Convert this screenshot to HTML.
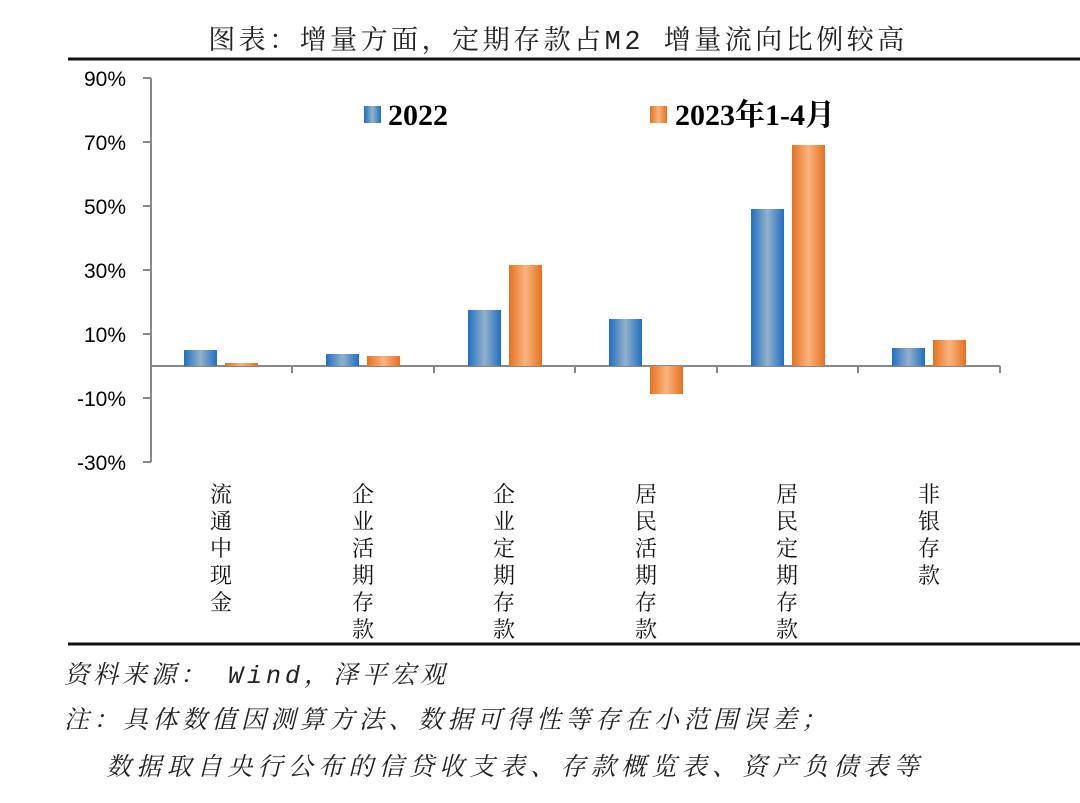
<!DOCTYPE html>
<html><head><meta charset="utf-8"><style>
body{margin:0;background:#fff;width:1080px;height:798px;overflow:hidden;font-family:"Liberation Serif","Noto Serif CJK SC",serif}
</style></head><body>
<svg width="1080" height="798" xmlns="http://www.w3.org/2000/svg">
<defs>
<linearGradient id="b" x1="0" x2="1"><stop offset="0" stop-color="#1f6fc4"/><stop offset="0.5" stop-color="#93b1c8"/><stop offset="1" stop-color="#1f6fc4"/></linearGradient>
<linearGradient id="o" x1="0" x2="1"><stop offset="0" stop-color="#e5711f"/><stop offset="0.5" stop-color="#f9b47e"/><stop offset="1" stop-color="#e5711f"/></linearGradient>
</defs>
<text x="558" y="49" text-anchor="middle" font-size="27" font-family="Liberation Mono,Noto Serif CJK SC,serif" fill="#222" letter-spacing="3.5">图表：增量方面，定期存款占M2 增量流向比例较高</text>
<line x1="68" y1="59" x2="1080" y2="59" stroke="#111" stroke-width="3"/>
<line x1="68" y1="644" x2="1080" y2="644" stroke="#111" stroke-width="3"/>
<g stroke="#888" stroke-width="2">
<line x1="151" y1="78" x2="151" y2="462"/>
<line x1="143" y1="78" x2="151" y2="78"/><line x1="143" y1="142" x2="151" y2="142"/><line x1="143" y1="206" x2="151" y2="206"/><line x1="143" y1="270" x2="151" y2="270"/><line x1="143" y1="334" x2="151" y2="334"/><line x1="143" y1="398" x2="151" y2="398"/><line x1="143" y1="462" x2="151" y2="462"/>
<line x1="151" y1="366" x2="1000" y2="366"/>
<line x1="292" y1="366" x2="292" y2="373"/><line x1="434" y1="366" x2="434" y2="373"/><line x1="575" y1="366" x2="575" y2="373"/><line x1="717" y1="366" x2="717" y2="373"/><line x1="858" y1="366" x2="858" y2="373"/><line x1="1000" y1="366" x2="1000" y2="373"/>
</g>
<g font-family="Liberation Sans,sans-serif" font-size="21" text-anchor="end" fill="#000">
<text x="126" y="86">90%</text><text x="126" y="150">70%</text><text x="126" y="214">50%</text><text x="126" y="278">30%</text><text x="126" y="342">10%</text><text x="126" y="406">-10%</text><text x="126" y="470">-30%</text>
</g>
<g>
<rect x="184" y="350" width="33" height="16" fill="url(#b)"/><rect x="225" y="363" width="33" height="3" fill="url(#o)"/>
<rect x="326" y="354" width="33" height="12" fill="url(#b)"/><rect x="367" y="356" width="33" height="10" fill="url(#o)"/>
<rect x="468" y="310" width="33" height="56" fill="url(#b)"/><rect x="509" y="265" width="33" height="101" fill="url(#o)"/>
<rect x="609" y="319" width="33" height="47" fill="url(#b)"/><rect x="650" y="366" width="33" height="28" fill="url(#o)"/>
<rect x="751" y="209" width="33" height="157" fill="url(#b)"/><rect x="792" y="145" width="33" height="221" fill="url(#o)"/>
<rect x="892" y="348" width="33" height="18" fill="url(#b)"/><rect x="933" y="340" width="33" height="26" fill="url(#o)"/>
</g>
<rect x="364" y="106" width="17" height="17" fill="url(#b)"/>
<text x="388" y="125" font-size="30" font-weight="bold">2022</text>
<rect x="650" y="106" width="17" height="17" fill="url(#o)"/>
<text x="675" y="125" font-size="30" font-weight="bold" font-family="Liberation Serif,Noto Serif CJK SC,serif">2023年1-4月</text>
<g font-size="22" text-anchor="middle" font-family="Noto Serif CJK SC,serif" fill="#111">
<text x="221" y="502">流</text><text x="221" y="529">通</text><text x="221" y="556">中</text><text x="221" y="583">现</text><text x="221" y="610">金</text>
<text x="363" y="502">企</text><text x="363" y="529">业</text><text x="363" y="556">活</text><text x="363" y="583">期</text><text x="363" y="610">存</text><text x="363" y="637">款</text>
<text x="504" y="502">企</text><text x="504" y="529">业</text><text x="504" y="556">定</text><text x="504" y="583">期</text><text x="504" y="610">存</text><text x="504" y="637">款</text>
<text x="646" y="502">居</text><text x="646" y="529">民</text><text x="646" y="556">活</text><text x="646" y="583">期</text><text x="646" y="610">存</text><text x="646" y="637">款</text>
<text x="787" y="502">居</text><text x="787" y="529">民</text><text x="787" y="556">定</text><text x="787" y="583">期</text><text x="787" y="610">存</text><text x="787" y="637">款</text>
<text x="929" y="502">非</text><text x="929" y="529">银</text><text x="929" y="556">存</text><text x="929" y="583">款</text>
</g>
<g font-size="25" font-style="italic" fill="#222" font-family="Liberation Mono,Noto Serif CJK SC,serif">
<text x="64" y="683" letter-spacing="4">资料来源：  Wind，泽平宏观</text>
<text x="64" y="728" letter-spacing="4.5">注：具体数值因测算方法、数据可得性等存在小范围误差；</text>
<text x="106" y="775" letter-spacing="5.3">数据取自央行公布的信贷收支表、存款概览表、资产负债表等</text>
</g>
</svg>
</body></html>
